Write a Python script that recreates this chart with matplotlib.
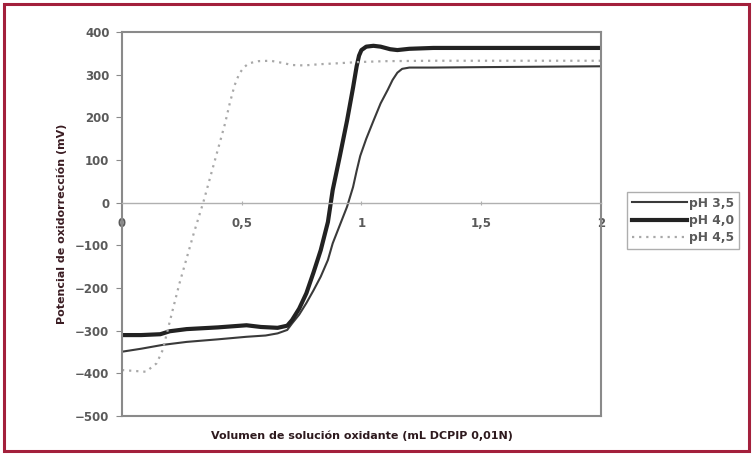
import matplotlib.pyplot as plt
from matplotlib.patches import Rectangle

# pH 3,5 (thin line)
x35 = [0.0, 0.08, 0.17, 0.27, 0.40, 0.52, 0.60, 0.65, 0.69, 0.71, 0.74, 0.77, 0.80, 0.83,
       0.86, 0.88, 0.91, 0.94, 0.965, 0.98, 0.995, 1.02, 1.05, 1.08, 1.11, 1.13, 1.15, 1.17,
       1.20, 1.30, 1.50, 1.75, 2.0]
y35 = [-349, -342, -333, -326, -320, -314, -311, -306, -298, -283, -262, -235, -205, -173,
       -134, -95, -52, -9, 37, 75, 110, 150, 192, 233, 265, 288, 305, 314,
       317, 317, 318, 319, 320]

# pH 4,0 (thick line)
x40 = [0.0, 0.08, 0.16, 0.20, 0.27, 0.40, 0.52, 0.58, 0.65, 0.69, 0.71, 0.74, 0.77, 0.80,
       0.83, 0.86, 0.88, 0.91, 0.94, 0.965, 0.98, 0.99, 1.00, 1.02, 1.05, 1.08, 1.12, 1.15,
       1.20, 1.30, 1.50, 1.75, 2.0]
y40 = [-310, -310, -308, -301, -296, -292, -287, -291, -293, -288, -275, -248, -212, -163,
       -111, -45, 30, 110, 193, 270, 320, 345, 358, 366, 368, 366, 360, 358,
       361, 363, 363, 363, 363]

# pH 4,5 (dotted line)
x45 = [0.0, 0.05, 0.10, 0.145, 0.17, 0.19, 0.21, 0.24, 0.27, 0.30, 0.34, 0.37, 0.40, 0.43,
       0.45, 0.47, 0.49, 0.51, 0.53, 0.57, 0.62, 0.67, 0.71, 0.76, 0.83, 0.90, 0.99, 1.10,
       1.30, 1.60, 2.0]
y45 = [-392, -394, -396, -376, -345, -300, -255, -189, -130, -71, 2, 63, 124, 185,
       233, 275, 303, 318, 327, 332, 333, 328, 323, 322, 325, 327, 330, 332,
       333, 333, 333]

labels = ['pH 3,5', 'pH 4,0', 'pH 4,5']
xticks = [0, 0.5, 1, 1.5, 2]
xticklabels = ['0', '0,5', '1', '1,5', '2']

fig = plt.figure(figsize=(7.53, 4.66), dpi=100)
ax = fig.add_axes([0.162, 0.107, 0.636, 0.824])

ax.plot(x35, y35, color='#3a3a3a', lw=1.5, label=labels[0])
ax.plot(x40, y40, color='#222222', lw=3.0, label=labels[1])
ax.plot(x45, y45, color='#a8a8a8', lw=1.6, linestyle=(0, (1, 2.2)), label=labels[2])

ax.set_xlim(0, 2)
ax.set_ylim(-500, 400)
ax.set_yticks(range(-500, 401, 100))
for s in ax.spines.values():
    s.set_color('#8a8a8a')
    s.set_linewidth(1.5)

# x axis sits on the zero line; the plot frame bottom is drawn separately
ax.spines['bottom'].set_position(('data', 0))
ax.spines['bottom'].set_color('#b0b0b0')
ax.spines['bottom'].set_linewidth(1.0)
ax.axhline(-500, color='#8a8a8a', lw=1.5, clip_on=False)

tick_col = '#5a5a5a'
ax.tick_params(axis='y', direction='out', length=4, color='#8a8a8a',
               labelsize=8.5, labelcolor=tick_col, pad=5)
ax.set_xticks(xticks)
ax.set_xticklabels(xticklabels)
ax.tick_params(axis='x', direction='inout', length=3, color='#b0b0b0', labelsize=8.5,
               labelcolor=tick_col, pad=9)
for t in ax.get_yticklabels() + ax.get_xticklabels():
    t.set_fontweight('bold')

ax.set_ylabel('Potencial de oxidorrección (mV)', fontsize=8, fontweight='bold',
              color='#3a1c22', labelpad=6)
fig.text(0.48, 0.064, 'Volumen de solución oxidante (mL DCPIP 0,01N)', fontsize=8,
         fontweight='bold', color='#2e1a1e', ha='center', va='center')

leg = ax.legend(loc='center left', bbox_to_anchor=(0.833, 0.527),
                bbox_transform=fig.transFigure, fontsize=8.8, frameon=True,
                fancybox=False, edgecolor='#9a9a9a', handlelength=4.5,
                handletextpad=0.15, labelspacing=0.35, borderpad=0.4,
                borderaxespad=0)
leg.get_frame().set_linewidth(1.0)
for t in leg.get_texts():
    t.set_color(tick_col)
    t.set_fontweight('bold')

fig.patches.append(Rectangle((0.005, 0.032), 0.99, 0.96, transform=fig.transFigure,
                             fill=False, edgecolor='#a3203c', lw=2.2))

fig.savefig('out.png', dpi=100)
